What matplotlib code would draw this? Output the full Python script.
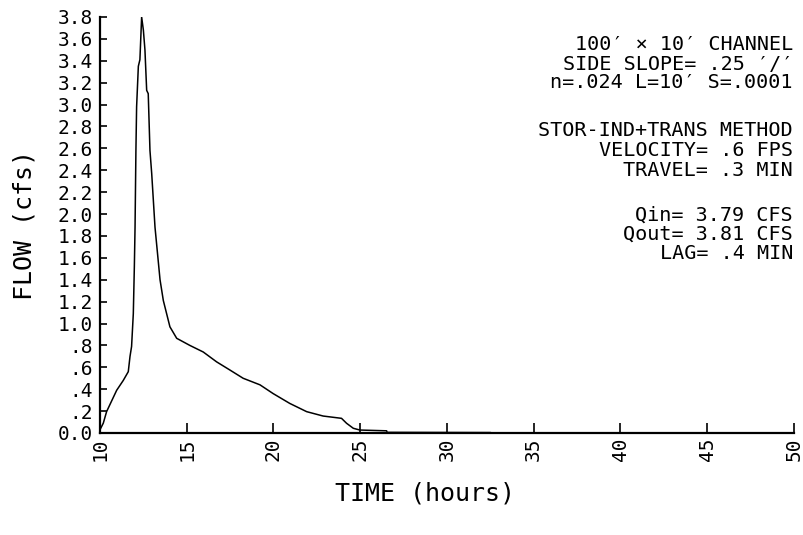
import matplotlib
matplotlib.use("Agg")
import matplotlib.pyplot as plt

# outflow hydrograph
time_hr = [10.0, 10.19, 10.38, 10.96, 11.34, 11.63, 11.73, 11.82, 11.92, 11.98,
           12.02, 12.07, 12.11, 12.21, 12.30, 12.40, 12.50, 12.59, 12.69, 12.78,
           12.88, 12.98, 13.17, 13.46, 13.65, 14.03, 14.42, 15.18, 15.95, 16.72,
           17.49, 18.25, 19.22, 19.98, 20.94, 21.91, 22.86, 23.92, 24.21, 24.60,
           24.98, 26.52, 26.55, 32.5, 32.6, 50.0]
flow_cfs = [0.03, 0.09, 0.195, 0.39, 0.48, 0.56, 0.70, 0.79, 1.09, 1.52,
            1.88, 2.58, 2.98, 3.35, 3.41, 3.80, 3.68, 3.50, 3.13, 3.10,
            2.58, 2.37, 1.88, 1.40, 1.21, 0.97, 0.865, 0.80, 0.74, 0.65,
            0.575, 0.50, 0.44, 0.36, 0.27, 0.195, 0.155, 0.134, 0.089, 0.043,
            0.027, 0.02, 0.006, 0.004, 0.0, 0.0]

y_ticks = [0.0, 0.2, 0.4, 0.6, 0.8, 1.0, 1.2, 1.4, 1.6, 1.8, 2.0,
           2.2, 2.4, 2.6, 2.8, 3.0, 3.2, 3.4, 3.6, 3.8]
y_labels = ["0.0", ".2", ".4", ".6", ".8", "1.0", "1.2", "1.4", "1.6", "1.8", "2.0",
            "2.2", "2.4", "2.6", "2.8", "3.0", "3.2", "3.4", "3.6", "3.8"]
x_ticks = [10, 15, 20, 25, 30, 35, 40, 45, 50]

notes = [
    ("100\u2032 \u00d7 10\u2032 CHANNEL", 44),
    ("SIDE SLOPE= .25 \u2032/\u2032", 64),
    ("n=.024 L=10\u2032 S=.0001", 83),
    ("STOR-IND+TRANS METHOD", 130),
    ("VELOCITY= .6 FPS", 150),
    ("TRAVEL= .3 MIN", 170),
    ("Qin= 3.79 CFS", 215),
    ("Qout= 3.81 CFS", 234),
    ("LAG= .4 MIN", 254),
]

W, H = 804, 535
plt.rcParams['font.family'] = ['DejaVu Sans Mono']
fig = plt.figure(figsize=(W / 100, H / 100), dpi=100)
ax = fig.add_axes([100 / W, 1 - 433 / H, 694 / W, 416 / H])

ax.plot(time_hr, flow_cfs, color='black', lw=1.1)
ax.set_xlim(10, 50)
ax.set_ylim(0, 3.8)

for s in ['top', 'right']:
    ax.spines[s].set_visible(False)
for s in ['left', 'bottom']:
    ax.spines[s].set_linewidth(1.6)

ax.set_yticks(y_ticks)
ax.set_yticklabels(y_labels)
ax.set_xticks(x_ticks)
ax.set_xticklabels([str(t) for t in x_ticks], rotation=90)
ax.tick_params(axis='y', direction='in', length=5, width=1.2, labelsize=14, pad=5)
ax.tick_params(axis='x', direction='in', length=7, width=1.2, labelsize=14, pad=3)

fig.text(25 / W, 1 - 225 / H, "FLOW (cfs)", rotation=90, ha='center', va='center', fontsize=18)
fig.text(425 / W, 1 - 493 / H, "TIME (hours)", ha='center', va='center', fontsize=18)

for txt, yp in notes:
    fig.text(793 / W, 1 - yp / H, txt, ha='right', va='center', fontsize=14.5)

fig.savefig("out.png", dpi=100)
